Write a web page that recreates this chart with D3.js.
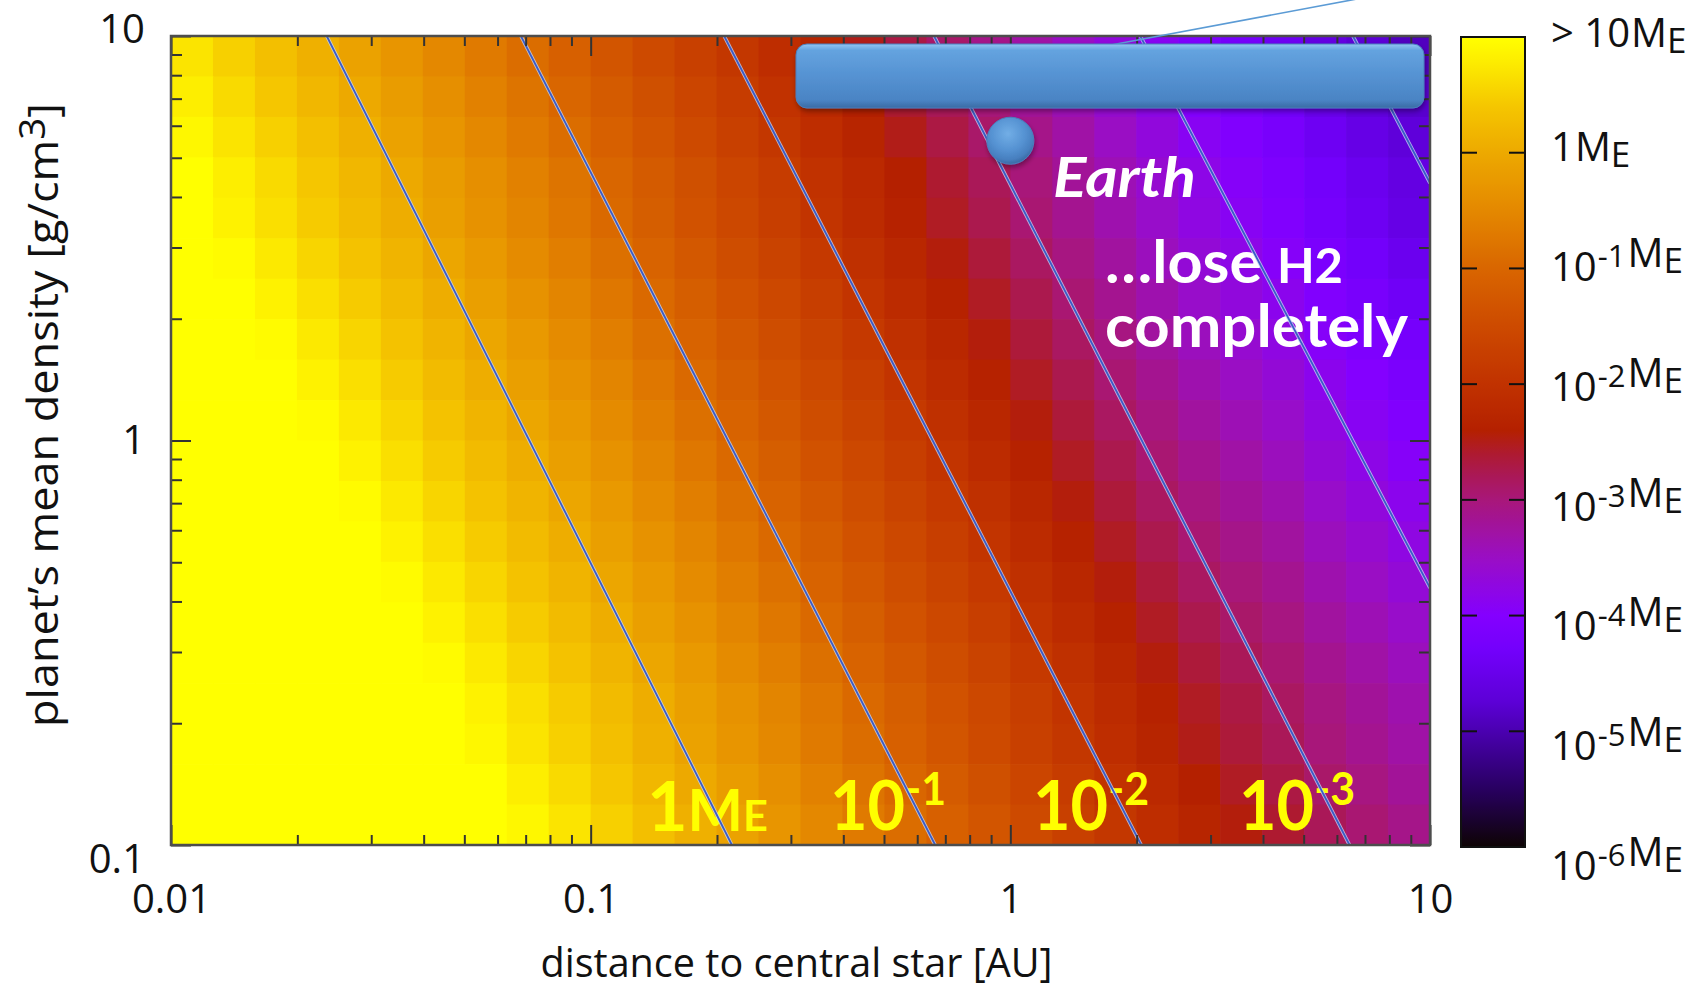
<!DOCTYPE html>
<html>
<head>
<meta charset="utf-8">
<script src="https://cdn.jsdelivr.net/npm/d3@7"></script>
<style>
  html, body { margin: 0; padding: 0; background: #ffffff; }
  svg { display: block; }
</style>
</head>
<body>
<svg id="chart" width="1702" height="990"></svg>
<script>
// ---- data -------------------------------------------------------------
// Axis extents (log axes)
const distanceRange = [0.01, 10];   // AU
const densityRange = [0.1, 10];     // g/cm^3
const cellStepDex = 0.1;            // grid cells are 0.1 dex wide in both directions

// log10 of the planet mass (Earth masses) per grid cell.
// Rows run from density 10 (top) down to 0.1; columns from 0.01 AU to 10 AU.
// Cells at 1 are saturated (> 10 M_E shows as yellow at the top of the scale).
const massLogRows = [
  [0.7,0.5,0.3,0.1,-0.1,-0.3,-0.5,-0.7,-0.9,-1.1,-1.3,-1.5,-1.7,-1.9,-2.1,-2.3,-2.5,-2.7,-2.9,-3.1,-3.3,-3.5,-3.7,-3.9,-4.1,-4.25,-4.4,-4.6,-4.75,-4.9],
  [0.8,0.6,0.4,0.2,0,-0.2,-0.4,-0.6,-0.8,-1,-1.2,-1.4,-1.6,-1.8,-2,-2.2,-2.4,-2.6,-2.8,-3,-3.2,-3.4,-3.6,-3.8,-4,-4.15,-4.3,-4.5,-4.65,-4.8],
  [0.9,0.7,0.5,0.3,0.1,-0.1,-0.3,-0.5,-0.7,-0.9,-1.1,-1.3,-1.5,-1.7,-1.9,-2.1,-2.3,-2.5,-2.7,-2.9,-3.1,-3.3,-3.5,-3.7,-3.9,-4.05,-4.2,-4.4,-4.55,-4.7],
  [1,0.8,0.6,0.4,0.2,0,-0.2,-0.4,-0.6,-0.8,-1,-1.2,-1.4,-1.6,-1.8,-2,-2.2,-2.4,-2.6,-2.8,-3,-3.2,-3.4,-3.6,-3.8,-3.95,-4.1,-4.3,-4.45,-4.6],
  [1,0.85,0.65,0.45,0.25,0.05,-0.15,-0.35,-0.55,-0.75,-0.95,-1.15,-1.35,-1.55,-1.75,-1.95,-2.15,-2.35,-2.55,-2.75,-2.95,-3.15,-3.35,-3.55,-3.75,-3.9,-4.05,-4.25,-4.4,-4.55],
  [1,0.95,0.75,0.55,0.35,0.15,-0.05,-0.25,-0.45,-0.65,-0.85,-1.05,-1.25,-1.45,-1.65,-1.85,-2.05,-2.25,-2.45,-2.65,-2.85,-3.05,-3.25,-3.45,-3.65,-3.8,-3.95,-4.15,-4.3,-4.45],
  [1,1,0.85,0.65,0.45,0.25,0.05,-0.15,-0.35,-0.55,-0.75,-0.95,-1.15,-1.35,-1.55,-1.75,-1.95,-2.15,-2.35,-2.55,-2.75,-2.95,-3.15,-3.35,-3.55,-3.7,-3.85,-4.05,-4.2,-4.35],
  [1,1,0.95,0.75,0.55,0.35,0.15,-0.05,-0.25,-0.45,-0.65,-0.85,-1.05,-1.25,-1.45,-1.65,-1.85,-2.05,-2.25,-2.45,-2.65,-2.85,-3.05,-3.25,-3.45,-3.6,-3.75,-3.95,-4.1,-4.25],
  [1,1,1,0.85,0.65,0.45,0.25,0.05,-0.15,-0.35,-0.55,-0.75,-0.95,-1.15,-1.35,-1.55,-1.75,-1.95,-2.15,-2.35,-2.55,-2.75,-2.95,-3.15,-3.35,-3.5,-3.65,-3.85,-4,-4.15],
  [1,1,1,0.95,0.75,0.55,0.35,0.15,-0.05,-0.25,-0.45,-0.65,-0.85,-1.05,-1.25,-1.45,-1.65,-1.85,-2.05,-2.25,-2.45,-2.65,-2.85,-3.05,-3.25,-3.4,-3.55,-3.75,-3.9,-4.05],
  [1,1,1,1,0.85,0.65,0.45,0.25,0.05,-0.15,-0.35,-0.55,-0.75,-0.95,-1.15,-1.35,-1.55,-1.75,-1.95,-2.15,-2.35,-2.55,-2.75,-2.95,-3.15,-3.3,-3.45,-3.65,-3.8,-3.95],
  [1,1,1,1,0.95,0.75,0.55,0.35,0.15,-0.05,-0.25,-0.45,-0.65,-0.85,-1.05,-1.25,-1.45,-1.65,-1.85,-2.05,-2.25,-2.45,-2.65,-2.85,-3.05,-3.2,-3.35,-3.55,-3.7,-3.85],
  [1,1,1,1,1,0.85,0.65,0.45,0.25,0.05,-0.15,-0.35,-0.55,-0.75,-0.95,-1.15,-1.35,-1.55,-1.75,-1.95,-2.15,-2.35,-2.55,-2.75,-2.95,-3.1,-3.25,-3.45,-3.6,-3.75],
  [1,1,1,1,1,0.95,0.75,0.55,0.35,0.15,-0.05,-0.25,-0.45,-0.65,-0.85,-1.05,-1.25,-1.45,-1.65,-1.85,-2.05,-2.25,-2.45,-2.65,-2.85,-3,-3.15,-3.35,-3.5,-3.65],
  [1,1,1,1,1,1,0.85,0.65,0.45,0.25,0.05,-0.15,-0.35,-0.55,-0.75,-0.95,-1.15,-1.35,-1.55,-1.75,-1.95,-2.15,-2.35,-2.55,-2.75,-2.9,-3.05,-3.25,-3.4,-3.55],
  [1,1,1,1,1,1,0.95,0.75,0.55,0.35,0.15,-0.05,-0.25,-0.45,-0.65,-0.85,-1.05,-1.25,-1.45,-1.65,-1.85,-2.05,-2.25,-2.45,-2.65,-2.8,-2.95,-3.15,-3.3,-3.45],
  [1,1,1,1,1,1,1,0.85,0.65,0.45,0.25,0.05,-0.15,-0.35,-0.55,-0.75,-0.95,-1.15,-1.35,-1.55,-1.75,-1.95,-2.15,-2.35,-2.55,-2.7,-2.85,-3.05,-3.2,-3.35],
  [1,1,1,1,1,1,1,0.9,0.7,0.5,0.3,0.1,-0.1,-0.3,-0.5,-0.7,-0.9,-1.1,-1.3,-1.5,-1.7,-1.9,-2.1,-2.3,-2.5,-2.65,-2.8,-3,-3.15,-3.3],
  [1,1,1,1,1,1,1,1,0.8,0.6,0.4,0.2,0,-0.2,-0.4,-0.6,-0.8,-1,-1.2,-1.4,-1.6,-1.8,-2,-2.2,-2.4,-2.55,-2.7,-2.9,-3.05,-3.2],
  [1,1,1,1,1,1,1,1,0.9,0.7,0.5,0.3,0.1,-0.1,-0.3,-0.5,-0.7,-0.9,-1.1,-1.3,-1.5,-1.7,-1.9,-2.1,-2.3,-2.45,-2.6,-2.8,-2.95,-3.1]
];

// Iso-mass lines (Earth masses), each straight in log-log space:
// [distance AU, density g/cm^3] where it enters and leaves the frame.
const contourLevels = [1, 1e-1, 1e-2, 1e-3, 1e-4, 1e-5];
const contourStarts = [[0.0235, 10], [0.0682, 10], [0.208, 10], [0.658, 10], [2.04, 10], [6.55, 10]];
const contourEnds   = [[0.217, 0.1], [0.662, 0.1], [2.05, 0.1], [6.43, 0.1], [10, 0.432], [10, 4.33]];

// Axis ticks
const xTickLabels = [0.01, 0.1, 1, 10];
const yTickLabels = [0.1, 1, 10];
const colorbarTicks = [1, 1e-1, 1e-2, 1e-3, 1e-4, 1e-5];
const colorbarRange = [1e-6, 10];
const colorbarLabelExponents = [1, 0, -1, -2, -3, -4, -5, -6];

// Earth's position
const earthDistance = 1;     // AU
const earthDensity = 5.51;   // g/cm^3

// ---- layout -----------------------------------------------------------
const plot = { left: 171, right: 1430, top: 36, bottom: 845 };
const cbar = { left: 1461, right: 1525, top: 37, bottom: 847 };
const axisFont = "'Open Sans', 'Noto Sans', sans-serif";
const boldFont = "Lato, 'Open Sans', sans-serif";

const svg = d3.select("#chart");
const defs = svg.append("defs");

const x = d3.scaleLog().domain(distanceRange).range([plot.left, plot.right]);
const y = d3.scaleLog().domain(densityRange).range([plot.bottom, plot.top]);

// palette in log10(M/M_E): black -> violet -> crimson -> orange -> yellow
const paletteStops  = [-6, -5.5, -5, -4.75, -4.3, -4, -3.5, -3, -2.8, -2.6, -2.4, -2, -1.5, -1, -0.5, 0, 0.2, 0.4, 0.6, 0.8, 1];
const paletteColors = ["#0e0404", "#280060", "#4a00b0", "#5c00d6", "#7300fb", "#8400ff", "#9a0ec4", "#a8177a",
                       "#aa1858", "#ae1a30", "#b42000", "#c13200", "#cd4a00", "#d96600", "#e48800", "#eda900",
                       "#f1b700", "#f5c600", "#f9da00", "#fdee00", "#ffff00"];
const color = d3.scaleLinear().domain(paletteStops).range(paletteColors)
  .interpolate(d3.interpolateRgb).clamp(true);

// ---- heatmap ----------------------------------------------------------
defs.append("clipPath").attr("id", "plotClip")
  .append("rect")
  .attr("x", plot.left).attr("y", plot.top)
  .attr("width", plot.right - plot.left).attr("height", plot.bottom - plot.top);

const logX0 = Math.log10(distanceRange[0]);
const logY1 = Math.log10(densityRange[1]);
const cells = [];
massLogRows.forEach((row, r) => row.forEach((v, c) => cells.push({ r, c, v })));

svg.append("g").attr("clip-path", "url(#plotClip)")
  .selectAll("rect").data(cells).join("rect")
  .attr("x", d => x(10 ** (logX0 + d.c * cellStepDex)))
  .attr("y", d => y(10 ** (logY1 - d.r * cellStepDex)))
  .attr("width", d => x(10 ** (logX0 + (d.c + 1) * cellStepDex)) - x(10 ** (logX0 + d.c * cellStepDex)) + 0.7)
  .attr("height", d => y(10 ** (logY1 - (d.r + 1) * cellStepDex)) - y(10 ** (logY1 - d.r * cellStepDex)) + 0.7)
  .attr("fill", d => color(d.v));

// ---- yellow level labels along the bottom --------------------------------
const levelLabels = svg.append("g")
  .attr("font-family", boldFont).attr("font-weight", 700).attr("fill", "#ffff00");

const oneME = levelLabels.append("text").attr("x", 647).attr("y", 831)
  .attr("textLength", 121).attr("lengthAdjust", "spacingAndGlyphs");
oneME.append("tspan").attr("font-size", 68).text("1");
oneME.append("tspan").attr("font-size", 57).text("M");
oneME.append("tspan").attr("font-size", 42).text("E");

[[830, "-1"], [1033, "-2"], [1239, "-3"]].forEach(([lx, exp]) => {
  const t = levelLabels.append("text").attr("x", lx).attr("y", 830)
    .attr("textLength", 116).attr("lengthAdjust", "spacingAndGlyphs");
  t.append("tspan").attr("font-size", 68).text("10");
  t.append("tspan").attr("font-size", 45).attr("dy", -25).text(exp);
});

// ---- white annotation text -------------------------------------------
const notes = svg.append("g").attr("font-family", boldFont).attr("font-weight", 700).attr("fill", "#ffffff");
notes.append("text").attr("x", 1053).attr("y", 197)
  .attr("font-style", "italic").attr("font-size", 56)
  .attr("textLength", 143).attr("lengthAdjust", "spacingAndGlyphs")
  .text("Earth");
const lose = notes.append("text").attr("x", 1105).attr("y", 283)
  .attr("textLength", 238).attr("lengthAdjust", "spacingAndGlyphs");
lose.append("tspan").attr("font-size", 60).text("\u2026lose ");
lose.append("tspan").attr("font-size", 48).text("H2");
notes.append("text").attr("x", 1105).attr("y", 347)
  .attr("font-size", 59)
  .attr("textLength", 303).attr("lengthAdjust", "spacingAndGlyphs")
  .text("completely");

// ---- iso-mass lines -----------------------------------------------------
const contours = contourLevels.map((level, i) => ({ level, pts: [contourStarts[i], contourEnds[i]] }));
const lineGen = d3.line().x(d => x(d[0])).y(d => y(d[1]));
const gLines = svg.append("g").attr("clip-path", "url(#plotClip)").attr("fill", "none");
gLines.selectAll("path.halo").data(contours).join("path").attr("class", "halo")
  .attr("d", d => lineGen(d.pts))
  .attr("stroke", "#c8d6f2").attr("stroke-opacity", 0.8).attr("stroke-width", 3.6);
gLines.selectAll("path.core").data(contours).join("path").attr("class", "core")
  .attr("d", d => lineGen(d.pts))
  .attr("stroke", "#3a5cc8").attr("stroke-width", 1.8);

// ---- axes ---------------------------------------------------------------
const minorOf = decades => decades.flatMap(dec => d3.range(2, 10).map(k => +(k * dec).toPrecision(3)));
const xMinor = minorOf([0.01, 0.1, 1]);
const yMinor = minorOf([0.1, 1]);

function styleAxis(g) {
  g.select(".domain").remove();
  g.selectAll(".tick line").attr("stroke", "#333").attr("stroke-width", 2);
  g.selectAll(".tick text").attr("font-family", axisFont).attr("font-size", 40).attr("fill", "#111");
}

svg.append("g").attr("transform", `translate(0,${plot.bottom})`)
  .call(d3.axisBottom(x).tickValues(xMinor).tickSizeInner(-10).tickSizeOuter(0).tickFormat(""))
  .call(styleAxis);
svg.append("g").attr("transform", `translate(0,${plot.bottom})`)
  .call(d3.axisBottom(x).tickValues(xTickLabels).tickSizeInner(-20).tickSizeOuter(0)
    .tickPadding(40).tickFormat(d3.format("~g")))
  .call(styleAxis);
svg.append("g").attr("transform", `translate(0,${plot.top})`)
  .call(d3.axisTop(x).tickValues(xMinor).tickSizeInner(-10).tickSizeOuter(0).tickFormat(""))
  .call(styleAxis);
svg.append("g").attr("transform", `translate(0,${plot.top})`)
  .call(d3.axisTop(x).tickValues(xTickLabels).tickSizeInner(-20).tickSizeOuter(0).tickFormat(""))
  .call(styleAxis);

svg.append("g").attr("transform", `translate(${plot.left},0)`)
  .call(d3.axisLeft(y).tickValues(yMinor).tickSizeInner(-11).tickSizeOuter(0).tickFormat(""))
  .call(styleAxis);
const yLabelNudge = new Map([[10, -6], [0.1, 15]]);
svg.append("g").attr("transform", `translate(${plot.left},0)`)
  .call(d3.axisLeft(y).tickValues(yTickLabels).tickSizeInner(-20).tickSizeOuter(0)
    .tickPadding(26).tickFormat(d3.format("~g")))
  .call(styleAxis)
  .call(g => g.selectAll(".tick text").attr("y", d => yLabelNudge.get(d) || 0));
svg.append("g").attr("transform", `translate(${plot.right},0)`)
  .call(d3.axisRight(y).tickValues(yMinor).tickSizeInner(-11).tickSizeOuter(0).tickFormat(""))
  .call(styleAxis);
svg.append("g").attr("transform", `translate(${plot.right},0)`)
  .call(d3.axisRight(y).tickValues(yTickLabels).tickSizeInner(-20).tickSizeOuter(0).tickFormat(""))
  .call(styleAxis);

// plot frame
svg.append("rect")
  .attr("x", plot.left).attr("y", plot.top)
  .attr("width", plot.right - plot.left).attr("height", plot.bottom - plot.top)
  .attr("fill", "none").attr("stroke", "#4d4d4d").attr("stroke-width", 2.5);

// axis titles
svg.append("text")
  .attr("x", (plot.left + plot.right) / 2 - 4).attr("y", 977)
  .attr("text-anchor", "middle")
  .attr("font-family", axisFont).attr("font-size", 40).attr("fill", "#111")
  .attr("textLength", 512).attr("lengthAdjust", "spacingAndGlyphs")
  .text("distance to central star [AU]");

const yTitle = svg.append("text")
  .attr("transform", "translate(58,415) rotate(-90)")
  .attr("text-anchor", "middle")
  .attr("font-family", axisFont).attr("font-size", 42).attr("fill", "#111")
  .attr("textLength", 624).attr("lengthAdjust", "spacingAndGlyphs");
yTitle.append("tspan").text("planet\u2019s mean density [g/cm");
yTitle.append("tspan").attr("font-size", 36).attr("dy", -13).text("3");
yTitle.append("tspan").attr("dy", 13).text("]");

// ---- colour bar -----------------------------------------------------------
const cb = d3.scaleLog().domain(colorbarRange).range([cbar.bottom, cbar.top]);
const grad = defs.append("linearGradient").attr("id", "cbGrad")
  .attr("x1", 0).attr("y1", 1).attr("x2", 0).attr("y2", 0);
const lo = Math.log10(colorbarRange[0]), hi = Math.log10(colorbarRange[1]);
d3.range(lo, hi + 0.0001, 0.05).forEach(v => {
  grad.append("stop").attr("offset", (v - lo) / (hi - lo)).attr("stop-color", color(v));
});
svg.append("rect")
  .attr("x", cbar.left).attr("y", cbar.top)
  .attr("width", cbar.right - cbar.left).attr("height", cbar.bottom - cbar.top)
  .attr("fill", "url(#cbGrad)").attr("stroke", "#111").attr("stroke-width", 2);
const cbTicks = svg.append("g").attr("stroke", "#111").attr("stroke-width", 2);
cbTicks.selectAll("line.l").data(colorbarTicks).join("line").attr("class", "l")
  .attr("x1", cbar.left).attr("x2", cbar.left + 16)
  .attr("y1", d => cb(d)).attr("y2", d => cb(d));
cbTicks.selectAll("line.r").data(colorbarTicks).join("line").attr("class", "r")
  .attr("x1", cbar.right - 16).attr("x2", cbar.right)
  .attr("y1", d => cb(d)).attr("y2", d => cb(d));

// colour bar labels
const cbLabelY = d3.scaleLinear().domain([-6, 0]).range([866, 147]);
const cbLabels = svg.append("g").attr("font-family", axisFont).attr("fill", "#111");
colorbarLabelExponents.forEach(e => {
  const cy = e > 0 ? 33 : cbLabelY(e);
  const t = cbLabels.append("text").attr("x", 1551).attr("y", cy + 14).attr("font-size", 40);
  if (e > 0) {
    t.append("tspan").text("> 10");
  } else if (e === 0) {
    t.append("tspan").text("1");
  } else {
    t.append("tspan").text("10");
    t.append("tspan").attr("font-size", 31).attr("dy", -14).attr("dx", 1).text(String(e));
    t.append("tspan").attr("dy", 14).text("");
  }
  t.append("tspan").attr("dx", e < 0 ? 2 : 1).text("M");
  t.append("tspan").attr("font-size", 35).attr("dy", 6).text("E");
});

// ---- callout shapes ----------------------------------------------------
const shadow = defs.append("filter").attr("id", "softShadow")
  .attr("x", "-10%").attr("y", "-30%").attr("width", "120%").attr("height", "170%");
shadow.append("feDropShadow").attr("dx", 1).attr("dy", 3).attr("stdDeviation", 2.5)
  .attr("flood-color", "#000").attr("flood-opacity", 0.35);

const boxGrad = defs.append("linearGradient").attr("id", "boxGrad")
  .attr("x1", 0).attr("y1", 0).attr("x2", 0).attr("y2", 1);
[[0, "#93c6f3"], [0.1, "#64a3df"], [0.5, "#5592d2"], [0.88, "#4a84c4"], [1, "#3a6aa4"]]
  .forEach(([o, c]) => boxGrad.append("stop").attr("offset", o).attr("stop-color", c));

// pointer line running off the top of the figure
svg.append("line")
  .attr("x1", 1111).attr("y1", 45).attr("x2", 1405).attr("y2", -10)
  .attr("stroke", "#5b9bd5").attr("stroke-width", 1.6);

svg.append("rect")
  .attr("x", 796).attr("y", 44).attr("width", 628).attr("height", 64)
  .attr("rx", 11).attr("ry", 11)
  .attr("fill", "url(#boxGrad)").attr("stroke", "#4a7fbd").attr("stroke-width", 1)
  .attr("filter", "url(#softShadow)");

const earthGrad = defs.append("radialGradient").attr("id", "earthGrad")
  .attr("cx", "45%").attr("cy", "35%").attr("r", "65%");
[[0, "#72aee6"], [0.55, "#5592d2"], [0.85, "#477fbf"], [1, "#3a6aa4"]]
  .forEach(([o, c]) => earthGrad.append("stop").attr("offset", o).attr("stop-color", c));
svg.append("circle")
  .attr("cx", x(earthDistance)).attr("cy", y(earthDensity)).attr("r", 23.5)
  .attr("fill", "url(#earthGrad)").attr("stroke", "#4a7fbd").attr("stroke-width", 1)
  .attr("filter", "url(#softShadow)");
</script>
</body>
</html>
